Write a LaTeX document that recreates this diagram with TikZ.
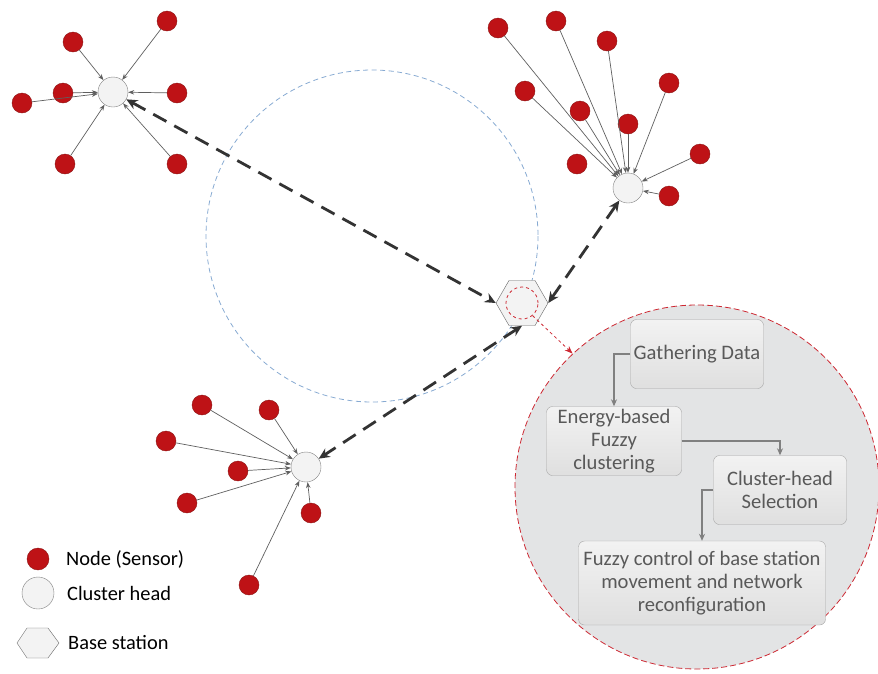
\documentclass[tikz,border=0pt]{standalone}
\usepackage{fontspec}
\setmainfont{Carlito}
\usetikzlibrary{arrows.meta}
\usetikzlibrary{shapes.geometric}

\definecolor{sensred}{RGB}{190,18,22}
\definecolor{sensedge}{RGB}{140,20,20}
\definecolor{headfill}{RGB}{243,243,243}
\definecolor{zonefill}{RGB}{227,228,229}
\definecolor{linkgray}{RGB}{95,95,95}
\definecolor{textgray}{RGB}{89,89,89}
\definecolor{rangeblue}{RGB}{135,170,210}
\definecolor{zonered}{RGB}{205,40,50}

\tikzset{
  sensor/.style={circle,draw=sensedge,fill=sensred,minimum size=20pt,inner sep=0pt},
  head/.style={circle,draw=gray,fill=headfill,minimum size=30pt,inner sep=0pt},
  base/.style={regular polygon,regular polygon sides=6,draw=gray!80!black,fill=headfill,
    minimum size=52pt,inner sep=0pt},
  link/.style={draw=linkgray,line width=.7pt,-{Stealth[length=6pt,width=4.5pt]}},
  relay/.style={draw=black!80,line width=2.8pt,dash pattern=on 15pt off 9pt,
    {Stealth[length=11pt,width=10pt]}-{Stealth[length=11pt,width=10pt]}},
  stepbox/.style={draw=gray!70,rounded corners=6pt,top color=gray!10,bottom color=gray!25,
    text=textgray,align=center,inner sep=0pt,font=\fontsize{20.6}{23.3}\selectfont},
  flow/.style={draw=gray,line width=1.2pt,-{Stealth[length=7pt,width=6pt]}},
  legend/.style={anchor=west,inner sep=0pt,font=\fontsize{20.4}{24}\selectfont}
}

\begin{document}
\begin{tikzpicture}[x=1pt,y=-1pt]
  \useasboundingbox (0,0) rectangle (878,673);
  \node[circle,draw=zonered,dash pattern=on 6pt off 3pt,line width=.8pt,fill=zonefill,minimum size=364pt,inner sep=0pt] (zone) at (697,487) {};
  \draw[rangeblue,line width=.8pt,dash pattern=on 5pt off 3.5pt] (372,236) circle (166);

  \node[head] (h1) at (113,92) {};
  \node[sensor] (a1) at (73,42) {};
  \node[sensor] (a2) at (167,21) {};
  \node[sensor] (a3) at (63,93) {};
  \node[sensor] (a4) at (22,103) {};
  \node[sensor] (a5) at (177,93) {};
  \node[sensor] (a6) at (65,164) {};
  \node[sensor] (a7) at (177,164) {};

  \node[head] (h2) at (628,188) {};
  \node[sensor] (b1) at (498,28) {};
  \node[sensor] (b2) at (556,21) {};
  \node[sensor] (b3) at (607,41) {};
  \node[sensor] (b4) at (669,83) {};
  \node[sensor] (b5) at (525,91) {};
  \node[sensor] (b6) at (580,111) {};
  \node[sensor] (b7) at (628,124) {};
  \node[sensor] (b8) at (700,154) {};
  \node[sensor] (b9) at (577,164) {};
  \node[sensor] (b10) at (669,196) {};

  \node[head] (h3) at (306,467) {};
  \node[sensor] (c1) at (202,405) {};
  \node[sensor] (c2) at (269,410) {};
  \node[sensor] (c3) at (166,441) {};
  \node[sensor] (c4) at (238,471) {};
  \node[sensor] (c5) at (187,503) {};
  \node[sensor] (c6) at (311,513) {};
  \node[sensor] (c7) at (249,585) {};

  \node[base] (bs) at (522,303) {};
  \node[circle,draw=zonered,dashed,line width=.8pt,minimum size=32pt,inner sep=0pt] (bsin) at (bs) {};

  \draw[link] (a1) -- (h1);
  \draw[link] (a2) -- (h1);
  \draw[link] (a3) -- (h1);
  \draw[link] (a4) -- (h1);
  \draw[link] (a5) -- (h1);
  \draw[link] (a6) -- (h1);
  \draw[link] (a7) -- (h1);

  \draw[link] (b1) -- (h2);
  \draw[link] (b2) -- (h2);
  \draw[link] (b3) -- (h2);
  \draw[link] (b4) -- (h2);
  \draw[link] (b5) -- (h2);
  \draw[link] (b6) -- (h2);
  \draw[link] (b7) -- (h2);
  \draw[link] (b8) -- (h2);
  \draw[link] (b10) -- (h2);

  \draw[link] (c1) -- (h3);
  \draw[link] (c2) -- (h3);
  \draw[link] (c3) -- (h3);
  \draw[link] (c4) -- (h3);
  \draw[link] (c5) -- (h3);
  \draw[link] (c6) -- (h3);
  \draw[link] (c7) -- (h3);

  \draw[relay] (h1) -- (bs.west);
  \draw[relay] (bs.east) -- (h2);
  \draw[relay] (bs.south) -- (h3);
  \draw[zonered,line width=.8pt,dashed,-{Stealth[length=8pt,width=6pt]}] (bsin.-50) -- (zone.133);

  \node[stepbox,minimum width=133pt,minimum height=69pt] (gather) at (697,354) {Gathering Data};
  \node[stepbox,minimum width=135pt,minimum height=69pt] (energy) at (614,441) {Energy-based\\Fuzzy\\clustering};
  \node[stepbox,minimum width=133pt,minimum height=69pt] (select) at (780,490) {Cluster-head\\Selection};
  \node[stepbox,minimum width=247pt,minimum height=84pt] (control) at (702,583) {Fuzzy control of base station\\movement and network\\reconfiguration};
  \draw[flow] (gather.west) -| (energy.north);
  \draw[flow] (energy.east) -| (select.north);
  \draw[flow] (select.west) -| (control.north);

  \node[sensor,minimum size=22pt] (keysensor) at (38,559) {};
  \node[legend] (keysensortext) at (66,559) {Node (Sensor)};
  \node[head,minimum size=32pt] (keyhead) at (38,593) {};
  \node[legend] (keyheadtext) at (67,593) {Cluster head};
  \draw[draw=gray!80!black,fill=headfill] (17,643) -- (27,628) -- (48,628) -- (59,643) -- (48,658) -- (27,658) -- cycle;
  \node[legend] (keybasetext) at (68,643) {Base station};
\end{tikzpicture}
\end{document}
